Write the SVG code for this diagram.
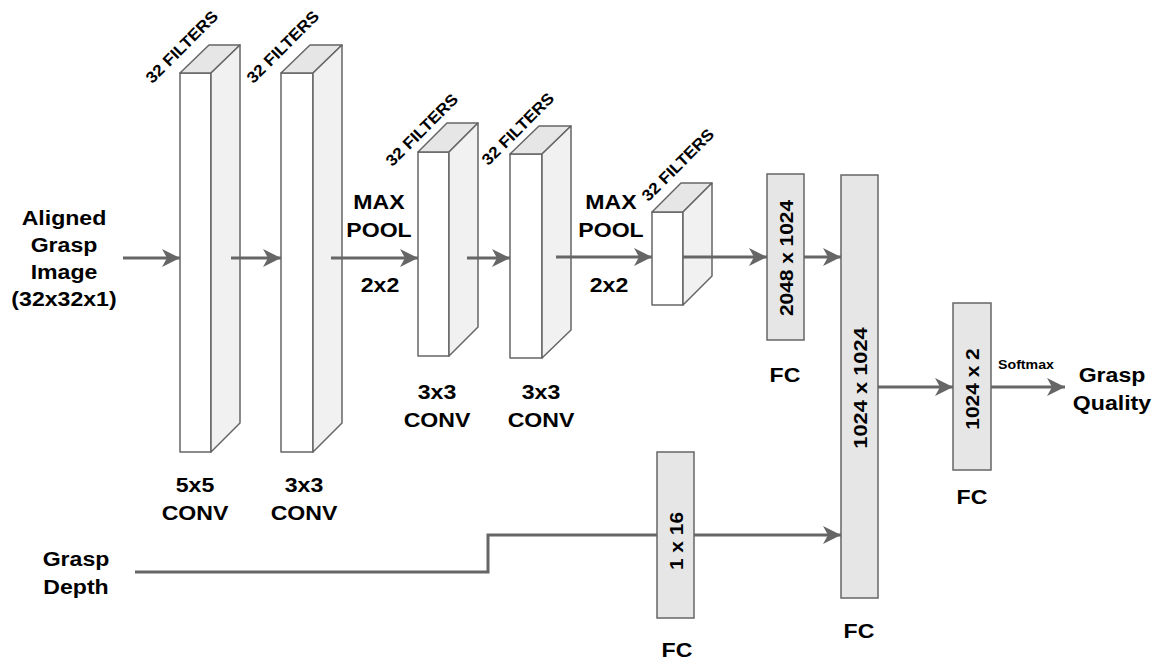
<svg xmlns="http://www.w3.org/2000/svg" width="1159" height="662" viewBox="0 0 1159 662">
<style>
.front{fill:#ffffff;stroke:#666666;stroke-width:1.5;stroke-linejoin:round}
.top{fill:#e6e6e6;stroke:#666666;stroke-width:1.5;stroke-linejoin:round}
.side{fill:#f1f1f1;stroke:#666666;stroke-width:1.5;stroke-linejoin:round}
.fc{fill:#e6e6e6;stroke:#666666;stroke-width:1.5}
.lbl{font-family:"Liberation Sans",Arial,sans-serif;font-weight:bold;font-size:21px;fill:#000;text-anchor:middle}
.rot{font-family:"Liberation Sans",Arial,sans-serif;font-weight:bold;font-size:19px;fill:#000;text-anchor:middle;dominant-baseline:central}
.flt{font-family:"Liberation Sans",Arial,sans-serif;font-weight:bold;font-size:16px;fill:#000;text-anchor:middle;dominant-baseline:central}
.sm{font-family:"Liberation Sans",Arial,sans-serif;font-weight:bold;font-size:13.5px;fill:#000;text-anchor:middle}
.edge{fill:none;stroke:#666666;stroke-width:3}
</style>
<defs>
<marker id="ah" markerUnits="userSpaceOnUse" markerWidth="20" markerHeight="20" viewBox="0 0 20 20" refX="18" refY="10" orient="auto">
<path d="M0,1 L18,10 L0,19 L5,10 Z" fill="#666666"/>
</marker>
</defs>
<rect width="1159" height="662" fill="#ffffff"/>

<g id="input-label">
<text class="lbl" transform="translate(64,225) scale(1.1,1)"><tspan x="0">Aligned</tspan><tspan x="0" dy="27">Grasp</tspan><tspan x="0" dy="27">Image</tspan><tspan x="0" dy="27">(32x32x1)</tspan></text>
</g>
<g id="depth-label">
<text class="lbl" transform="translate(76,566) scale(1.1,1)"><tspan x="0">Grasp</tspan><tspan x="0" dy="28">Depth</tspan></text>
</g>

<g id="conv1">
<rect class="front" x="180" y="73" width="31" height="379"/>
<polygon class="top" points="180,73 211,73 240,45 209,45"/>
<polygon class="side" points="211,73 240,45 240,423 211,452"/>
<text class="flt" transform="translate(182,47) rotate(-45) scale(1.08,1)">32 FILTERS</text>
<text class="lbl" transform="translate(195,492) scale(1.1,1)"><tspan x="0">5x5</tspan><tspan x="0" dy="28">CONV</tspan></text>
</g>

<g id="conv2">
<rect class="front" x="281" y="73" width="32" height="379"/>
<polygon class="top" points="281,73 313,73 342,45 310,45"/>
<polygon class="side" points="313,73 342,45 342,423 313,452"/>
<text class="flt" transform="translate(283,47) rotate(-45) scale(1.08,1)">32 FILTERS</text>
<text class="lbl" transform="translate(304,492) scale(1.1,1)"><tspan x="0">3x3</tspan><tspan x="0" dy="28">CONV</tspan></text>
</g>

<g id="pool1">
<text class="lbl" transform="translate(379,209) scale(1.1,1)"><tspan x="0">MAX</tspan><tspan x="0" dy="28">POOL</tspan></text>
<text class="lbl" transform="translate(380,292) scale(1.1,1)">2x2</text>
</g>

<g id="conv3">
<rect class="front" x="418" y="152" width="31" height="204"/>
<polygon class="top" points="418,152 449,152 478,123 447,123"/>
<polygon class="side" points="449,152 478,123 478,327 449,356"/>
<text class="flt" transform="translate(422,130) rotate(-45) scale(1.08,1)">32 FILTERS</text>
<text class="lbl" transform="translate(437,399) scale(1.1,1)"><tspan x="0">3x3</tspan><tspan x="0" dy="28">CONV</tspan></text>
</g>

<g id="conv4">
<rect class="front" x="510" y="154" width="32" height="204"/>
<polygon class="top" points="510,154 542,154 571,126 539,126"/>
<polygon class="side" points="542,154 571,126 571,330 542,358"/>
<text class="flt" transform="translate(518,129) rotate(-45) scale(1.08,1)">32 FILTERS</text>
<text class="lbl" transform="translate(541,399) scale(1.1,1)"><tspan x="0">3x3</tspan><tspan x="0" dy="28">CONV</tspan></text>
</g>

<g id="pool2">
<text class="lbl" transform="translate(611,209) scale(1.1,1)"><tspan x="0">MAX</tspan><tspan x="0" dy="28">POOL</tspan></text>
<text class="lbl" transform="translate(609,292) scale(1.1,1)">2x2</text>
</g>

<g id="conv5">
<rect class="front" x="652" y="212" width="31" height="93"/>
<polygon class="top" points="652,212 683,212 712,183 681,183"/>
<polygon class="side" points="683,212 712,183 712,276 683,305"/>
<text class="flt" transform="translate(678,165) rotate(-45) scale(1.08,1)">32 FILTERS</text>
</g>

<g id="fc1">
<rect class="fc" x="767" y="174" width="37" height="166"/>
<text class="rot" transform="translate(786,258) rotate(-90) scale(1.1,1)">2048 x 1024</text>
<text class="lbl" transform="translate(785,382) scale(1.1,1)">FC</text>
</g>

<g id="fc2">
<rect class="fc" x="841" y="175" width="37" height="423"/>
<text class="rot" transform="translate(860,388) rotate(-90) scale(1.15,1)">1024 x 1024</text>
<text class="lbl" transform="translate(859,638) scale(1.1,1)">FC</text>
</g>

<g id="fc3">
<rect class="fc" x="953" y="303" width="38" height="167"/>
<text class="rot" transform="translate(972,389) rotate(-90) scale(1.1,1)">1024 x 2</text>
<text class="lbl" transform="translate(972,504) scale(1.1,1)">FC</text>
</g>

<g id="fc-depth">
<rect class="fc" x="657" y="452" width="37" height="166"/>
<text class="rot" transform="translate(676,541) rotate(-90) scale(1.1,1)">1 x 16</text>
<text class="lbl" transform="translate(677,657) scale(1.1,1)">FC</text>
</g>

<g id="output-label">
<text class="lbl" transform="translate(1112,382) scale(1.1,1)"><tspan x="0">Grasp</tspan><tspan x="0" dy="28">Quality</tspan></text>
</g>

<g id="connectors">
<path class="edge" d="M123,258 L180,258" marker-end="url(#ah)"/>
<path class="edge" d="M231,258 L281,258" marker-end="url(#ah)"/>
<path class="edge" d="M331,258 L418,258" marker-end="url(#ah)"/>
<path class="edge" d="M467,258 L510,258" marker-end="url(#ah)"/>
<path class="edge" d="M556,257 L652,257" marker-end="url(#ah)"/>
<path class="edge" d="M683,257 L767,257" marker-end="url(#ah)"/>
<path class="edge" d="M804,257 L841,257" marker-end="url(#ah)"/>
<path class="edge" d="M878,387 L953,387" marker-end="url(#ah)"/>
<path class="edge" d="M991,387 L1065,387" marker-end="url(#ah)"/>
<path class="edge" d="M135,572 L488,572 L488,535 L657,535"/>
<path class="edge" d="M694,535 L841,535" marker-end="url(#ah)"/>
<text class="sm" transform="translate(1026,369) scale(1.05,1)">Softmax</text>
</g>
</svg>
